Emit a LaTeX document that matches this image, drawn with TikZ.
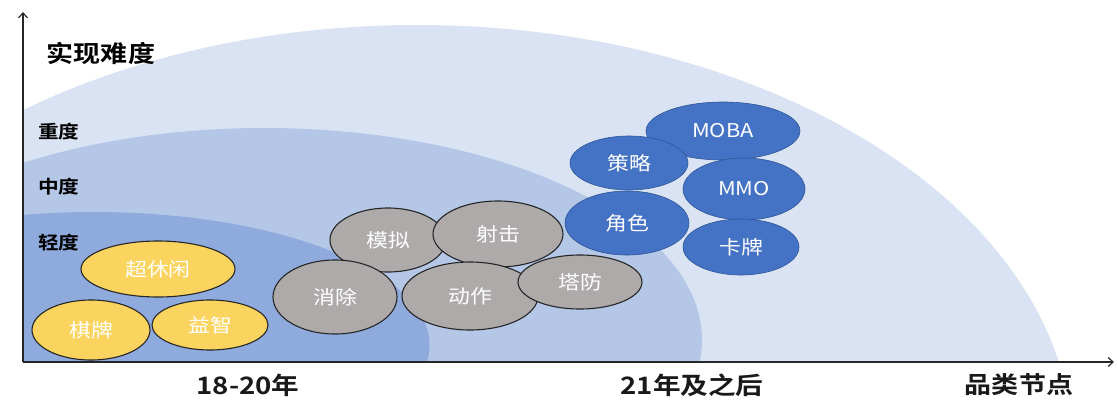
\documentclass[tikz,border=0pt]{standalone}
\usepackage{fontspec}
\usetikzlibrary{shapes.geometric,arrows.meta}
\newfontfamily\cjk{Noto Sans CJK SC}[FakeStretch=1.15, BoldFont={Noto Sans CJK SC Bold}]
\definecolor{outerc}{HTML}{DAE3F3}
\definecolor{midc}{HTML}{B4C7E7}
\definecolor{innerc}{HTML}{8FAADC}
\definecolor{yel}{HTML}{FAD45E}
\definecolor{gry}{HTML}{AEAAAA}
\definecolor{blu}{HTML}{4472C4}
\definecolor{bluline}{HTML}{2F5597}
\begin{document}
\begin{tikzpicture}[x=1pt,y=-1pt,
  bub/.style={ellipse, inner sep=0pt, text=white, font=\cjk\fontsize{19}{19}\selectfont},
  ybub/.style={bub, fill=yel, draw=black!85, line width=1.1pt},
  gbub/.style={bub, fill=gry, draw=black!85, line width=1.1pt},
  bbub/.style={bub, fill=blu, draw=bluline, line width=0.6pt},
  lvl/.style={font=\cjk\bfseries\fontsize{18}{18}\selectfont, text=black},
  xlab/.style={font=\cjk\bfseries\fontsize{24}{24}\selectfont, text=black!90},
  axis/.style={draw=black!85, line width=1.2pt}]
\useasboundingbox (0,0) rectangle (1117,400);
\begin{scope}
  \clip (23,0) rectangle (1117,362);
  \fill[outerc] (417,450) ellipse [x radius=656, y radius=425];
  \fill[midc] (264,340) ellipse [x radius=438, y radius=212];
  \fill[innerc] (94,345) ellipse [x radius=335.5, y radius=133];
\end{scope}
\coordinate (O) at (23,362);
\coordinate (ytop) at (23,12);
\coordinate (xend) at (1114,362);
\draw[axis, -{Straight Barb[length=5pt,width=9pt]}] (O) -- (ytop);
\draw[axis, -{Straight Barb[length=5pt,width=9pt]}] (O) -- (xend);
% labels
\node[font=\cjk\bfseries\fontsize{23.5}{23.5}\selectfont] (title) at (101,53) {实现难度};
\node[lvl] (heavy) at (59,132) {重度};
\node[lvl] (mid) at (59,187) {中度};
\node[lvl] (light) at (59,243) {轻度};
\node[xlab] (x1) at (248,385) {18-20年};
\node[xlab] (x2) at (692,385) {21年及之后};
\node[xlab, font=\cjk\bfseries\fontsize{23.5}{23.5}\selectfont] (x3) at (1019,385) {品类节点};
% yellow
\node[ybub, minimum width=154, minimum height=56] (chx) at (158,269) {超休闲};
\node[ybub, minimum width=118, minimum height=60] (qp) at (91,330) {棋牌};
\node[ybub, minimum width=116, minimum height=50] (yz) at (210,325) {益智};
% grey
\node[gbub, minimum width=116, minimum height=64] (mn) at (388,240) {模拟};
\node[gbub, minimum width=130, minimum height=66] (sj) at (498,234) {射击};
\node[gbub, minimum width=124, minimum height=74] (xc) at (335,297) {消除};
\node[gbub, minimum width=136, minimum height=68] (dz) at (470,296) {动作};
\node[gbub, minimum width=124, minimum height=54] (tf) at (580,282) {塔防};
% blue
\node[bbub, minimum width=154, minimum height=58] (moba) at (723,131) {MOBA};
\node[bbub, minimum width=118, minimum height=54] (cl) at (629,163) {策略};
\node[bbub, minimum width=122, minimum height=62] (mmo) at (744,189) {MMO};
\node[bbub, minimum width=124, minimum height=64] (js) at (627,223) {角色};
\node[bbub, minimum width=116, minimum height=56] (kp) at (741,247) {卡牌};
\end{tikzpicture}
\end{document}
